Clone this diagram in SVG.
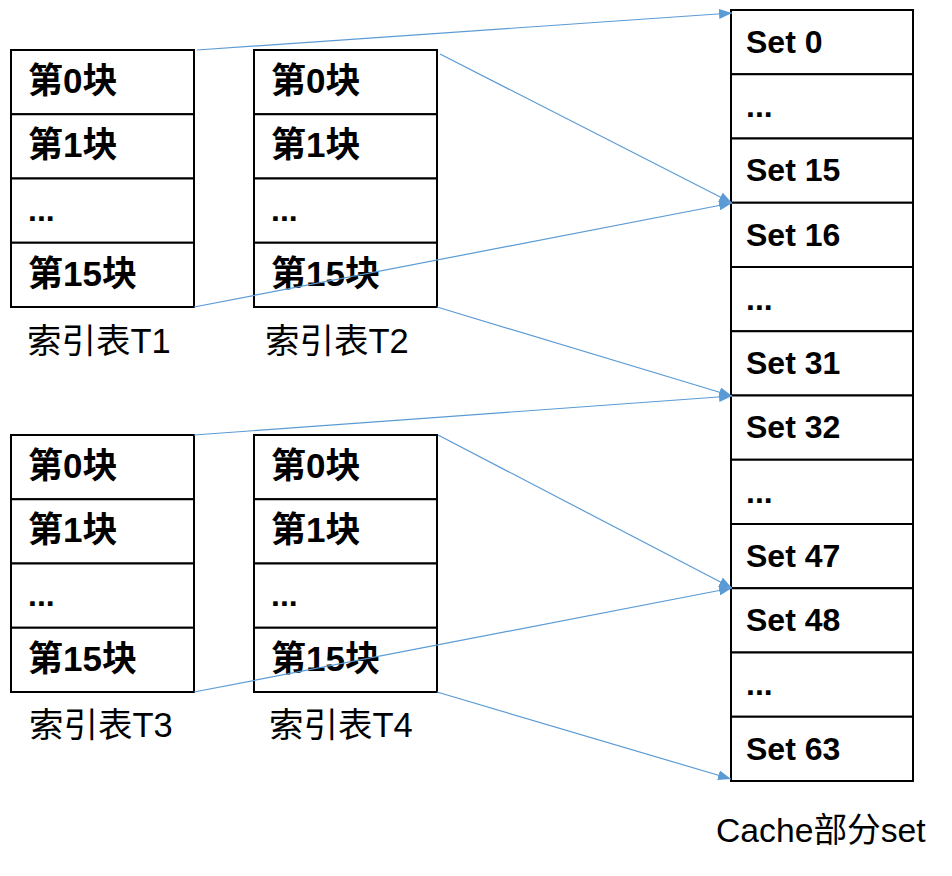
<svg xmlns="http://www.w3.org/2000/svg" width="952" height="876" viewBox="0 0 952 876">
<defs>
<style>
.cell{fill:#fff;stroke:#000;stroke-width:2}
.b{font-family:"Liberation Sans","Noto Sans CJK SC",sans-serif;font-weight:bold;font-size:32px;fill:#000}
.zh{font-size:35px}
.lbl{font-family:"Liberation Sans","Noto Sans CJK SC",sans-serif;font-size:34.5px;fill:#000}
.cl{font-size:33.7px}
.conn{stroke:#5B9BD5;stroke-width:1.2;fill:none}
</style>
<marker id="ah" viewBox="0 0 13 10" refX="13" refY="5" markerWidth="13" markerHeight="10" markerUnits="userSpaceOnUse" orient="auto">
<path d="M0,0 L13,5 L0,10 Z" fill="#5B9BD5"/>
</marker>
</defs>
<rect width="952" height="876" fill="#fff"/>

<g id="T1">
<rect class="cell" x="11" y="50" width="183" height="64.25"/>
<rect class="cell" x="11" y="114.25" width="183" height="64.25"/>
<rect class="cell" x="11" y="178.5" width="183" height="64.25"/>
<rect class="cell" x="11" y="242.75" width="183" height="64.25"/>
<text class="b zh" x="28" y="93">第0块</text>
<text class="b zh" x="28" y="157">第1块</text>
<text class="b" x="28" y="221">...</text>
<text class="b zh" x="28" y="286">第15块</text>
<text class="lbl" x="27" y="353">索引表T1</text>
</g>

<g id="T2">
<rect class="cell" x="254" y="50" width="183" height="64.25"/>
<rect class="cell" x="254" y="114.25" width="183" height="64.25"/>
<rect class="cell" x="254" y="178.5" width="183" height="64.25"/>
<rect class="cell" x="254" y="242.75" width="183" height="64.25"/>
<text class="b zh" x="271" y="93">第0块</text>
<text class="b zh" x="271" y="157">第1块</text>
<text class="b" x="271" y="221">...</text>
<text class="b zh" x="271" y="286">第15块</text>
<text class="lbl" x="265" y="353">索引表T2</text>
</g>

<g id="T3">
<rect class="cell" x="11" y="435" width="183" height="64.25"/>
<rect class="cell" x="11" y="499.25" width="183" height="64.25"/>
<rect class="cell" x="11" y="563.5" width="183" height="64.25"/>
<rect class="cell" x="11" y="627.75" width="183" height="64.25"/>
<text class="b zh" x="28" y="478">第0块</text>
<text class="b zh" x="28" y="542">第1块</text>
<text class="b" x="28" y="606">...</text>
<text class="b zh" x="28" y="671">第15块</text>
<text class="lbl" x="29" y="737">索引表T3</text>
</g>

<g id="T4">
<rect class="cell" x="254" y="435" width="183" height="64.25"/>
<rect class="cell" x="254" y="499.25" width="183" height="64.25"/>
<rect class="cell" x="254" y="563.5" width="183" height="64.25"/>
<rect class="cell" x="254" y="627.75" width="183" height="64.25"/>
<text class="b zh" x="271" y="478">第0块</text>
<text class="b zh" x="271" y="542">第1块</text>
<text class="b" x="271" y="606">...</text>
<text class="b zh" x="271" y="671">第15块</text>
<text class="lbl" x="269" y="737">索引表T4</text>
</g>

<g id="cache">
<rect class="cell" x="731" y="10" width="182" height="64.25"/>
<rect class="cell" x="731" y="74.25" width="182" height="64.25"/>
<rect class="cell" x="731" y="138.5" width="182" height="64.25"/>
<rect class="cell" x="731" y="202.75" width="182" height="64.25"/>
<rect class="cell" x="731" y="267" width="182" height="64.25"/>
<rect class="cell" x="731" y="331.25" width="182" height="64.25"/>
<rect class="cell" x="731" y="395.5" width="182" height="64.25"/>
<rect class="cell" x="731" y="459.75" width="182" height="64.25"/>
<rect class="cell" x="731" y="524" width="182" height="64.25"/>
<rect class="cell" x="731" y="588.25" width="182" height="64.25"/>
<rect class="cell" x="731" y="652.5" width="182" height="64.25"/>
<rect class="cell" x="731" y="716.75" width="182" height="64.25"/>
<text class="b" x="746" y="53">Set 0</text>
<text class="b" x="746" y="117">...</text>
<text class="b" x="746" y="181">Set 15</text>
<text class="b" x="746" y="246">Set 16</text>
<text class="b" x="746" y="310">...</text>
<text class="b" x="746" y="374">Set 31</text>
<text class="b" x="746" y="438">Set 32</text>
<text class="b" x="746" y="503">...</text>
<text class="b" x="746" y="567">Set 47</text>
<text class="b" x="746" y="631">Set 48</text>
<text class="b" x="746" y="695">...</text>
<text class="b" x="746" y="760">Set 63</text>
<text class="lbl cl" x="716" y="842">Cache部分set</text>
</g>

<g id="connectors">
<line class="conn" x1="197" y1="50" x2="732" y2="13" marker-end="url(#ah)"/>
<line class="conn" x1="440" y1="54" x2="732" y2="203" marker-end="url(#ah)"/>
<line class="conn" x1="194" y1="307" x2="732" y2="203" marker-end="url(#ah)"/>
<line class="conn" x1="437" y1="307" x2="732" y2="396" marker-end="url(#ah)"/>
<line class="conn" x1="194" y1="435" x2="732" y2="396" marker-end="url(#ah)"/>
<line class="conn" x1="438" y1="435" x2="732" y2="588" marker-end="url(#ah)"/>
<line class="conn" x1="194" y1="692" x2="732" y2="588" marker-end="url(#ah)"/>
<line class="conn" x1="437" y1="692" x2="731" y2="779" marker-end="url(#ah)"/>
</g>
</svg>
